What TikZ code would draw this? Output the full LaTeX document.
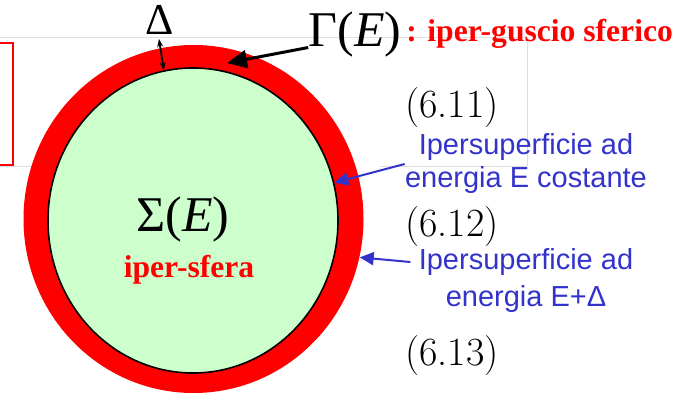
\documentclass[tikz,border=0pt]{standalone}
\usepackage{fontspec}
\newfontfamily\arialfont{Liberation Sans}
\newfontfamily\timesfont{Liberation Serif}
\usepackage{tikz}
\definecolor{Rosso}{RGB}{255,0,0}
\definecolor{Verdino}{RGB}{204,255,204}
\definecolor{Blu}{RGB}{51,51,204}
\usetikzlibrary{positioning, arrows.meta, shapes.geometric, calc}

\begin{document}
\begin{tikzpicture}[
  x=0.5pt, y=-0.5pt,
  %% Stili: forme, testi e frecce
  gusciobox/.style={ellipse, fill=Rosso, inner sep=0pt,
                    minimum width=170pt, minimum height=174pt},
  sferabox/.style={ellipse, fill=Verdino, draw=black, line width=0.8pt,
                   inner sep=0pt, minimum width=145pt, minimum height=152.5pt},
  grande/.style={inner sep=0pt, font=\timesfont\fontsize{25}{30}\selectfont},
  rosso/.style={inner sep=0pt, text=Rosso,
                font=\timesfont\bfseries\fontsize{15.8}{19}\selectfont},
  eqn/.style={inner sep=0pt, font=\fontsize{20}{24}\selectfont},
  blu/.style={inner sep=0pt, text=Blu, align=center},
  frecciablu/.style={-{Triangle[length=7pt,width=6.5pt]}, line width=1pt, color=Blu},
  freccianera/.style={-{Triangle[length=10pt,width=9pt]}, line width=1.5pt}
]
\useasboundingbox (0,0) rectangle (691,395);

%% ── Resti della diapositiva ──────────────────────────────────────────────
\draw[gray!25, line width=0.5pt] (-5,38) -- (527,38) -- (527,167) -- (380,167);
\draw[gray!25, line width=0.5pt] (-5,167) -- (40,167);
\draw[Rosso, line width=0.8pt] (-10,43) rectangle (13,165);

%% ── Iper-guscio e iper-sfera ─────────────────────────────────────────────
\node[gusciobox] (guscio) at (193.5,219) {};
\node[sferabox]  (sfera)  at (193,220.5) {};

\node[grande, anchor=base] (sigma) at (183,232) {Σ(\textit{E})};
\node[rosso, anchor=base] (sferalbl) at (189,278) {iper-sfera};

%% ── Etichette in alto ────────────────────────────────────────────────────
\node[inner sep=0pt, anchor=base, font=\timesfont\fontsize{22}{26}\selectfont]
  (delta) at (160,35) {Δ};
\node[grande, anchor=base] (gamma) at (355,47) {Γ(\textit{E})};
\node[rosso, anchor=base west] (guscilbl) at (406,42) {: iper-guscio sferico};

\coordinate (dtop) at (159,39);
\coordinate (gtip) at (227,63);

%% ── Numeri di equazione ──────────────────────────────────────────────────
\node[eqn, anchor=base] (eq1) at (452,118) {(6.11)};
\node[eqn, anchor=base] (eq2) at (452,237) {(6.12)};
\node[eqn, anchor=base] (eq3) at (452,365) {(6.13)};

%% ── Etichette blu ────────────────────────────────────────────────────────
\node[blu, font=\arialfont\fontsize{14.5}{16.5}\selectfont] (lbla) at (526,164)
  {Ipersuperficie ad\\energia E costante};
\node[blu, font=\arialfont\fontsize{14.5}{18.5}\selectfont] (lblb) at (526,281)
  {Ipersuperficie ad\\energia E+Δ};

%% ── Frecce ───────────────────────────────────────────────────────────────
\draw[{Stealth[length=4pt]}-{Stealth[length=4pt]}, line width=0.9pt] (dtop) -- (sfera.101);
\draw[freccianera] (gamma.195) -- (gtip);
\draw[frecciablu] (lbla.west) -- (sfera.15);
\draw[frecciablu] ([xshift=-4pt]lblb.170) -- (guscio.-13);

\end{tikzpicture}
\end{document}
